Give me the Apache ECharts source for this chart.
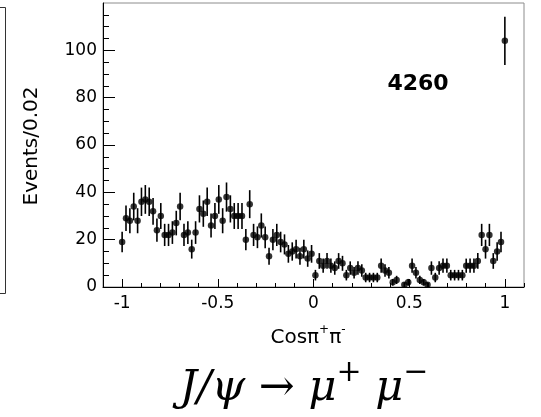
<!DOCTYPE html>
<html>
<head>
<meta charset="utf-8">
<script src="https://cdn.jsdelivr.net/npm/echarts@6/dist/echarts.min.js"></script>
<style>
  html, body { margin: 0; padding: 0; background: #ffffff; }
  #chart { width: 541px; height: 417px; }
</style>
</head>
<body>
<div id="chart"></div>
<script>
// Histogram of cos(pi+ pi-) in 100 bins of 0.02, drawn as points with sqrt(N) error bars
const binCount = 100;
const binRange = [-1, 1];
const counts = [
  19, 29, 28, 34, 28, 36, 37, 36, 32, 24,
  30, 22, 22, 23, 27, 34, 22, 23, 16, 23,
  33, 31, 36, 26, 30, 37, 28, 38, 33, 30,
  30, 30, 20, 35, 22, 21, 26, 21, 13, 20,
  22, 19, 18, 14, 15, 16, 13, 16, 12, 14,
  5, 11, 9, 11, 9, 8, 11, 10, 5, 8,
  6, 8, 7, 4, 4, 4, 4, 9, 7, 6,
  2, 3, 0, 1, 2, 9, 6, 3, 2, 1,
  8, 4, 8, 9, 9, 5, 5, 5, 5, 9,
  9, 9, 11, 22, 16, 22, 11, 15, 19, 104
];
const xTickLabels = [-1, -0.5, 0, 0.5, 1];
const yTickLabels = [0, 20, 40, 60, 80, 100];
const xLimits = [-1.1, 1.1];
const yLimits = [0, 120];
const yTitle = 'Events/0.02';
const sampleLabel = '4260';

const FONT = 'DejaVu Sans';

// point positions along the bin range; empty bins are not drawn
const points = [];
const bars = [];
counts.forEach((n, i) => {
  const x = binRange[0] + i * (binRange[1] - binRange[0]) / (binCount - 1);
  if (n > 0) {
    points.push([x, n]);
    bars.push([x, n, Math.sqrt(n)]);
  }
});

// minor tick positions
const xMinor = [];
for (let k = -11; k <= 11; k++) xMinor.push(+(k * 0.1).toFixed(2));
const yMinor = [];
for (let v = 5; v < 120; v += 5) yMinor.push(v);

const chart = echarts.init(document.getElementById('chart'), null, { renderer: 'canvas' });

chart.setOption({
  animation: false,
  backgroundColor: '#ffffff',
  grid: {
    left: 103, right: 17, top: 3, bottom: 130,
    show: true, borderColor: '#8c8c8c', borderWidth: 1, backgroundColor: 'transparent'
  },
  xAxis: [
    {
      type: 'value', min: xLimits[0], max: xLimits[1], position: 'bottom',
      axisLine: { show: true, onZero: false, lineStyle: { color: '#000', width: 1 } },
      axisTick: { show: true, inside: true, length: 8, customValues: xTickLabels, lineStyle: { color: '#000', width: 1 } },
      axisLabel: {
        show: true, customValues: xTickLabels, margin: 8,
        fontFamily: FONT, fontSize: 17, color: '#000',
        formatter: v => String(v)
      },
      splitLine: { show: false }
    },
    {
      type: 'value', min: xLimits[0], max: xLimits[1], position: 'bottom',
      axisLine: { show: false, onZero: false },
      axisTick: { show: true, inside: true, length: 4, customValues: xMinor, lineStyle: { color: '#000', width: 1 } },
      axisLabel: { show: false },
      splitLine: { show: false }
    }
  ],
  yAxis: [
    {
      type: 'value', min: yLimits[0], max: yLimits[1], position: 'left',
      axisLine: { show: true, onZero: false, lineStyle: { color: '#000', width: 1 } },
      axisTick: { show: true, inside: true, length: 12, customValues: yTickLabels, lineStyle: { color: '#000', width: 1 } },
      axisLabel: {
        show: true, customValues: yTickLabels, margin: 6,
        fontFamily: FONT, fontSize: 17, color: '#000'
      },
      splitLine: { show: false }
    },
    {
      type: 'value', min: yLimits[0], max: yLimits[1], position: 'left', offset: 0,
      axisLine: { show: false, onZero: false },
      axisTick: { show: true, inside: true, length: 6, customValues: yMinor, lineStyle: { color: '#000', width: 1 } },
      axisLabel: { show: false },
      splitLine: { show: false }
    }
  ],
  series: [
    {
      type: 'custom',
      xAxisIndex: 0, yAxisIndex: 0,
      data: bars,
      clip: true,
      renderItem: (params, api) => {
        const x = api.value(0), y = api.value(1), e = api.value(2);
        const lo = api.coord([x, y - e]);
        const hi = api.coord([x, y + e]);
        return {
          type: 'line',
          shape: { x1: lo[0], y1: lo[1], x2: hi[0], y2: hi[1] },
          style: { stroke: '#000', lineWidth: 1.6 }
        };
      },
      z: 2
    },
    {
      type: 'scatter',
      xAxisIndex: 0, yAxisIndex: 0,
      data: points,
      symbol: 'circle',
      symbolSize: 6.5,
      itemStyle: { color: '#000' },
      z: 3
    }
  ],
  graphic: [
    // edge of the neighbouring panel
    {
      type: 'polyline',
      shape: { points: [[0, 7.5], [5.5, 7.5], [5.5, 293.5], [0, 293.5]] },
      style: { stroke: '#333', lineWidth: 1, fill: null }
    },
    {
      type: 'text', x: 32, y: 146, rotation: Math.PI / 2,
      style: { text: yTitle, font: '20px "DejaVu Sans"', fill: '#000', align: 'center', verticalAlign: 'middle' }
    },
    {
      type: 'text', x: 308, y: 336,
      style: {
        text: '{n|Cosπ}{s|+}{n|π}{s|-}',
        align: 'center', verticalAlign: 'middle',
        rich: {
          n: { fontFamily: FONT, fontSize: 20, fill: '#000', lineHeight: 24, verticalAlign: 'bottom' },
          s: { fontFamily: FONT, fontSize: 12, fill: '#000', lineHeight: 24, verticalAlign: 'top' }
        }
      }
    },
    {
      type: 'text', x: 418, y: 84,
      style: { text: sampleLabel, font: 'bold 22px "DejaVu Sans"', fill: '#000', align: 'center', verticalAlign: 'middle' }
    },
    {
      type: 'text', x: 304, y: 384,
      style: {
        text: '{m|J/ψ → μ}{p|+}{m| μ}{p|−}',
        align: 'center', verticalAlign: 'middle',
        rich: {
          m: { fontFamily: 'DejaVu Serif', fontStyle: 'italic', fontSize: 43, fill: '#000', lineHeight: 52, verticalAlign: 'bottom' },
          p: { fontFamily: 'DejaVu Serif', fontSize: 30, fill: '#000', lineHeight: 52, verticalAlign: 'top' }
        }
      }
    }
  ]
});
</script>
</body>
</html>
